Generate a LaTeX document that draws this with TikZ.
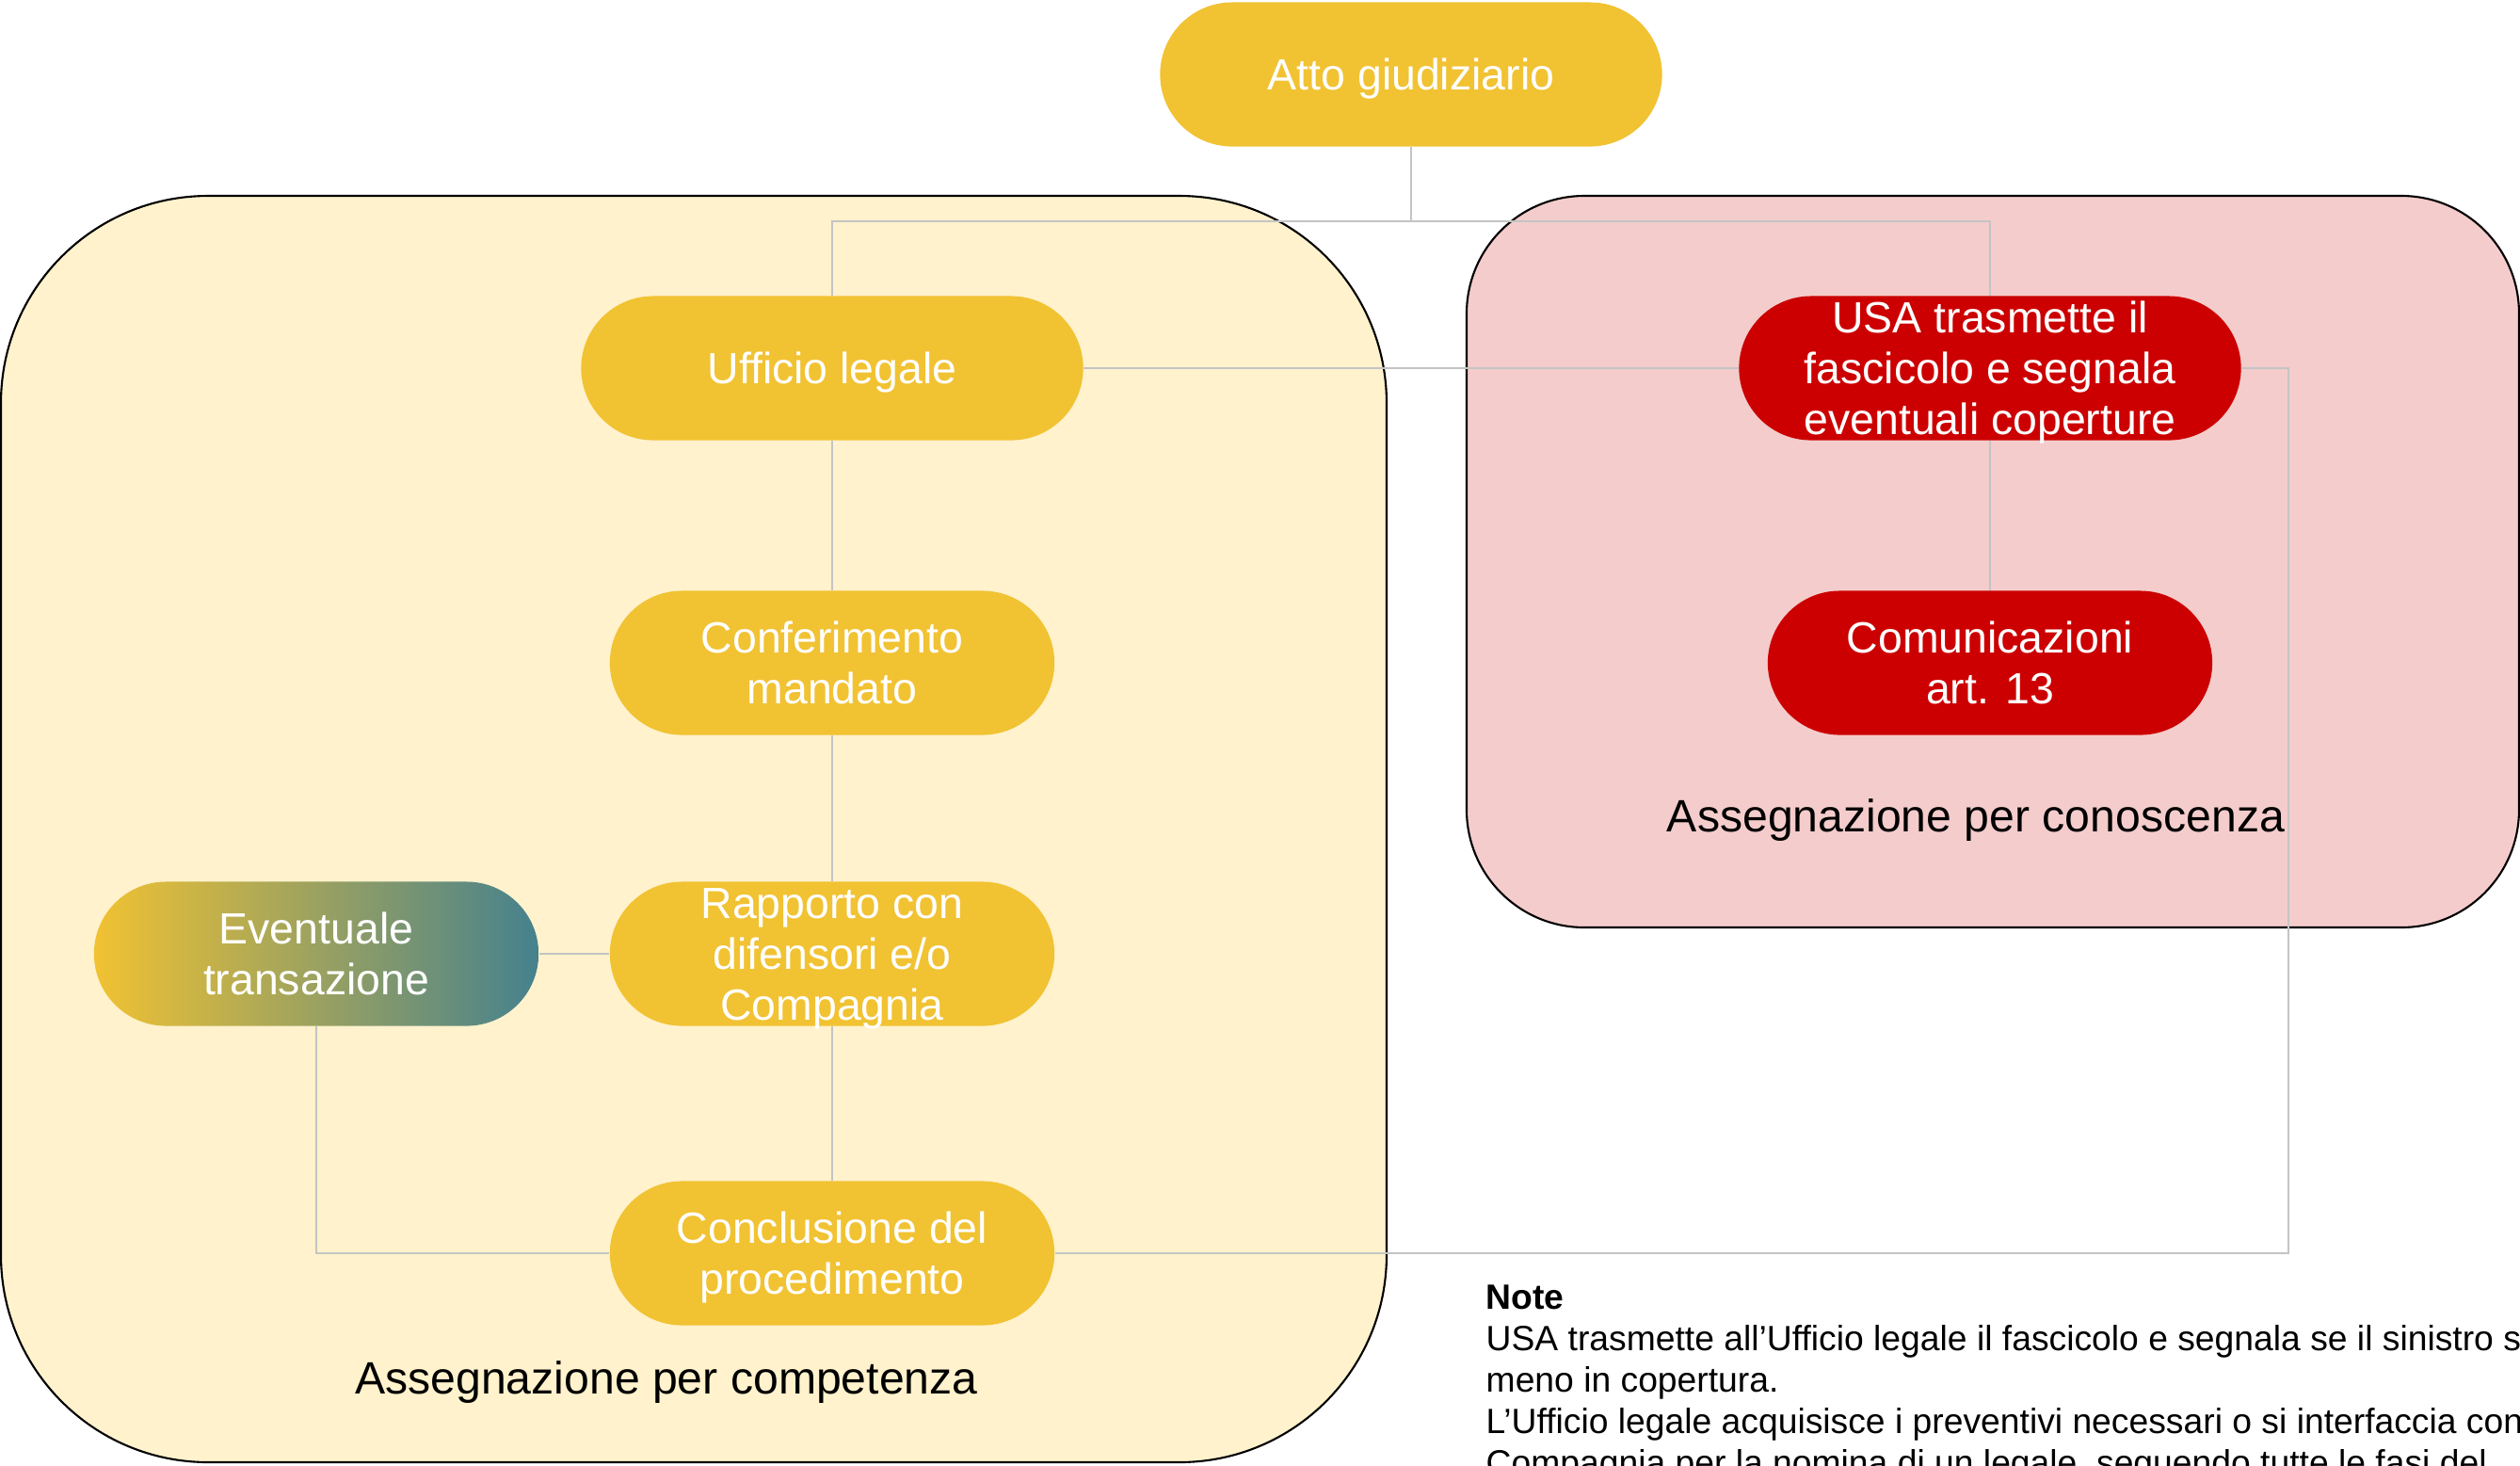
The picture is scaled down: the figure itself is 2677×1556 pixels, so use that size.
\documentclass[tikz,border=0pt]{standalone}
\usepackage{fontspec}
\setmainfont{Liberation Sans}
\usetikzlibrary{calc}
\definecolor{ygold}{HTML}{F1C232}
\definecolor{yfill}{HTML}{FFF2CC}
\definecolor{rfill}{HTML}{F4CCCC}
\definecolor{rnodec}{HTML}{CC0000}
\definecolor{ateal}{HTML}{45818E}
\definecolor{connc}{HTML}{C4C4C4}
\newcommand{\nodetop}{\rule{0pt}{0.45cm}}
\newcommand{\nodebot}{\rule[-0.12cm]{0pt}{0.12cm}}
\begin{document}
\begin{tikzpicture}[x=0.01cm,y=0.01cm,
  pill/.style={rectangle, rounded corners=0.765cm, minimum height=1.53cm, inner sep=0pt, draw=none},
  wide/.style={pill, minimum width=5.33cm},
  narrow/.style={pill, minimum width=4.72cm},
  ntext/.style={text=white, align=center, inner sep=0pt, font=\fontsize{13.2}{15.3}\selectfont},
  conn/.style={draw=connc, line width=0.5pt},
  cont/.style={draw=black, line width=0.6pt},
  grp/.style={font=\fontsize{13.7}{16}\selectfont, anchor=base, inner sep=0pt},
  note/.style={font=\fontsize{10.6}{12.5}\selectfont, anchor=base west, inner sep=0pt}
]
\useasboundingbox (0,0) rectangle (2677,-1556);
\clip (0,0) rectangle (2677,-1556);

% containers
\draw[cont, fill=yfill, rounded corners=2.2cm] (1,-208) rectangle (1473,-1553);
\draw[cont, fill=rfill, rounded corners=1.25cm] (1558,-208) rectangle (2676,-985);

% shapes
\node[wide, fill=ygold] (atto) at (1499,-79) {};
\node[wide, fill=ygold] (uff) at (884,-391) {};
\node[narrow, fill=ygold] (conf) at (884,-704) {};
\node[narrow, fill=ygold] (rapp) at (884,-1013) {};
\node[narrow, fill=ygold] (concl) at (884,-1331) {};
\node[narrow, left color=ygold, right color=ateal] (ev) at (336,-1013) {};
\node[wide, fill=rnodec] (usa) at (2114,-391) {};
\node[narrow, fill=rnodec] (com) at (2114,-704) {};

% connectors
\draw[conn] (atto.south) -- ++(0,-79) coordinate (hub);
\draw[conn] (uff.north) |- (hub) -| (usa.north);
\draw[conn] (uff.east) -- (usa.west);
\draw[conn] (uff.south) -- (conf.north);
\draw[conn] (conf.south) -- (rapp.north);
\draw[conn] (rapp.south) -- (concl.north);
\draw[conn] (usa.south) -- (com.north);
\draw[conn] (rapp.west) -- (ev.east);
\draw[conn] (ev.south) |- (concl.west);
\coordinate (rt) at (2431,-1331);
\draw[conn] (usa.east) -| (rt) -- (concl.east);

% node texts
\node[ntext] (tatto) at (atto) {\nodetop Atto giudiziario\nodebot};
\node[ntext] (tuff) at (uff) {\nodetop Ufficio legale\nodebot};
\node[ntext] (tconf) at (conf) {\nodetop Conferimento\\mandato\nodebot};
\node[ntext] (trapp) at (rapp) {\nodetop Rapporto con\\difensori e/o\\Compagnia\nodebot};
\node[ntext] (tconcl) at (concl) {\nodetop Conclusione del\\procedimento\nodebot};
\node[ntext] (tev) at (ev) {\nodetop Eventuale\\transazione\nodebot};
\node[ntext] (tusa) at (usa) {\nodetop USA trasmette il\\fascicolo e segnala\\eventuali coperture\nodebot};
\node[ntext] (tcom) at (com) {\nodetop Comunicazioni\\art. 13\nodebot};

% group labels
\node[grp] (lcon) at (2099,-883) {Assegnazione per conoscenza};
\node[grp] (lcom) at (708,-1480) {Assegnazione per competenza};

% note
\node[note, font=\fontsize{10.6}{12.5}\selectfont\bfseries] (n0) at (1578,-1390) {Note};
\node[note] (n1) at (1578,-1434) {USA trasmette all’Ufficio legale il fascicolo e segnala se il sinistro s};
\node[note] (n2) at (1578,-1478) {meno in copertura.};
\node[note] (n3) at (1578,-1522) {L’Ufficio legale acquisisce i preventivi necessari o si interfaccia con};
\node[note] (n4) at (1578,-1566) {Compagnia per la nomina di un legale, seguendo tutte le fasi del};
\end{tikzpicture}
\end{document}
